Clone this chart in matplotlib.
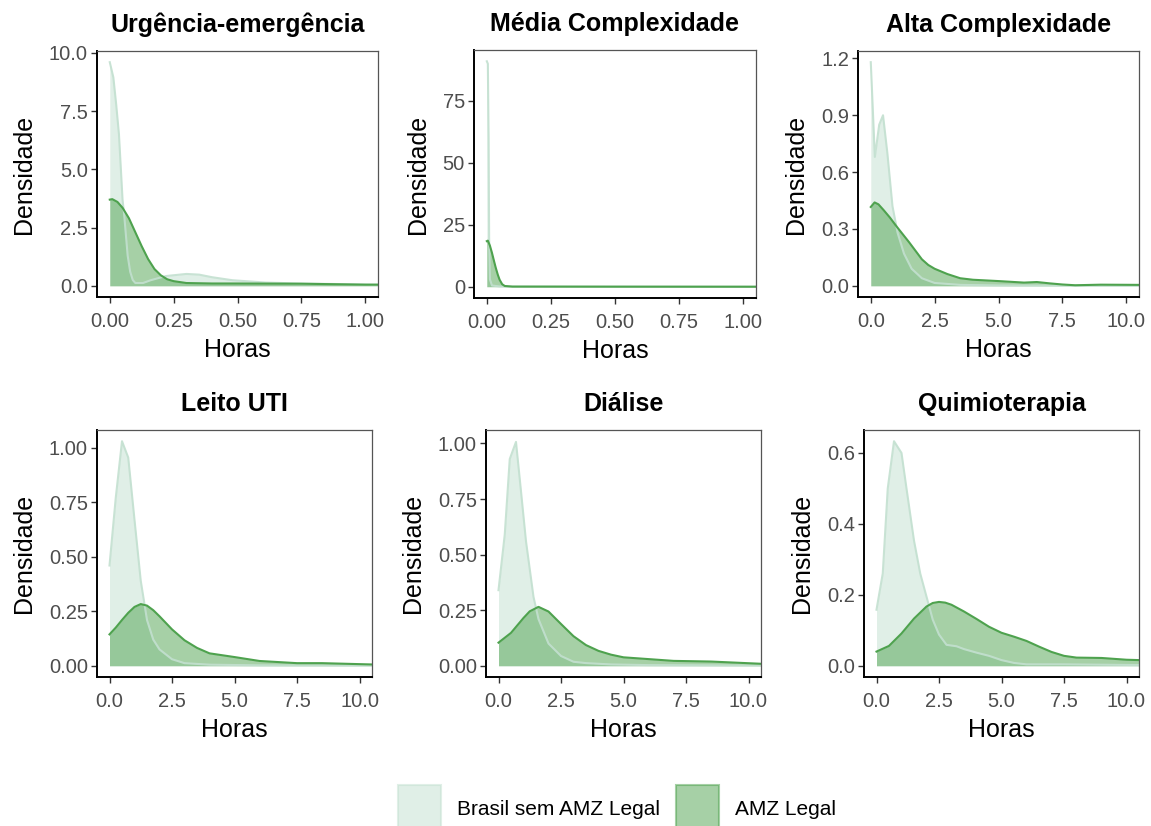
import matplotlib
matplotlib.use("Agg")
import matplotlib.pyplot as plt
from matplotlib.patches import Patch
from matplotlib.ticker import FixedLocator, FormatStrFormatter

plt.rcParams['font.family'] = ['Liberation Sans', 'DejaVu Sans']

# ---- dados (curvas de densidade) ----
titulos = ["Urgência-emergência", "Média Complexidade", "Alta Complexidade",
           "Leito UTI", "Diálise", "Quimioterapia"]
grupos = ["Brasil sem AMZ Legal", "AMZ Legal"]

urg_x_br = [0, 0.014, 0.025, 0.036, 0.05, 0.056, 0.07, 0.08, 0.09, 0.1, 0.13, 0.16, 0.22, 0.3, 0.35, 0.4, 0.48, 0.61, 0.74, 0.87, 1.05]
urg_y_br = [9.6, 8.95, 7.8, 6.5, 3.7, 3.1, 1.3, 0.6, 0.25, 0.12, 0.12, 0.24, 0.42, 0.51, 0.48, 0.37, 0.24, 0.14, 0.1, 0.08, 0.05]
urg_x_amz = [0, 0.01, 0.03, 0.05, 0.075, 0.1, 0.125, 0.15, 0.175, 0.2, 0.225, 0.25, 0.3, 0.4, 0.5, 0.75, 1.0, 1.05]
urg_y_amz = [3.7, 3.72, 3.6, 3.35, 2.9, 2.3, 1.7, 1.15, 0.72, 0.45, 0.28, 0.2, 0.12, 0.1, 0.1, 0.09, 0.05, 0.05]

med_x_br = [0, 0.004, 0.007, 0.009, 0.012, 0.02, 0.05, 1.05]
med_y_br = [91, 90, 60, 20, 3, 0.5, 0.1, 0.0]
med_x_amz = [0, 0.004, 0.012, 0.02, 0.028, 0.035, 0.043, 0.05, 0.06, 0.07, 0.1, 0.5, 1.05]
med_y_amz = [18.4, 18.6, 16.6, 13.7, 10.4, 7.6, 4.8, 2.8, 1.0, 0.3, 0.05, 0.02, 0.0]

alta_x_br = [0, 0.16, 0.33, 0.48, 0.65, 0.85, 1.05, 1.3, 1.6, 2.0, 2.5, 3.5, 5, 7.5, 10.5]
alta_y_br = [1.18, 0.68, 0.85, 0.9, 0.7, 0.42, 0.28, 0.17, 0.09, 0.04, 0.015, 0.005, 0.002, 0.001, 0.0]
alta_x_amz = [0, 0.15, 0.3, 0.5, 0.75, 1.0, 1.5, 2.0, 2.25, 2.5, 3.0, 3.5, 4.0, 5.0, 6.0, 6.5, 7.0, 7.5, 8.0, 9.0, 10.5]
alta_y_amz = [0.416, 0.44, 0.43, 0.40, 0.36, 0.315, 0.23, 0.14, 0.11, 0.09, 0.062, 0.04, 0.032, 0.025, 0.017, 0.02, 0.013, 0.007, 0.003, 0.006, 0.005]

uti_x_br = [0, 0.25, 0.5, 0.75, 1.0, 1.25, 1.5, 1.75, 2.0, 2.5, 3.0, 4.0, 6.0, 10.5]
uti_y_br = [0.46, 0.77, 1.03, 0.955, 0.67, 0.39, 0.21, 0.12, 0.075, 0.03, 0.012, 0.005, 0.002, 0.001]
uti_x_amz = [0, 0.25, 0.5, 0.75, 1.0, 1.25, 1.5, 1.75, 2.0, 2.5, 3.0, 3.5, 4.0, 5.0, 6.0, 7.5, 8.5, 10.5]
uti_y_amz = [0.144, 0.175, 0.21, 0.243, 0.27, 0.283, 0.276, 0.255, 0.227, 0.167, 0.117, 0.082, 0.057, 0.04, 0.022, 0.012, 0.012, 0.006]

dia_x_br = [0, 0.25, 0.45, 0.7, 0.9, 1.1, 1.4, 1.6, 2.0, 2.5, 3.0, 3.5, 4.5, 6.0, 10.5]
dia_y_br = [0.34, 0.59, 0.93, 1.007, 0.785, 0.56, 0.31, 0.21, 0.1, 0.044, 0.018, 0.012, 0.006, 0.003, 0.001]
dia_x_amz = [0, 0.5, 1.0, 1.25, 1.6, 2.0, 2.5, 3.0, 3.5, 4.0, 4.5, 5.0, 6.0, 7.0, 8.5, 10.5]
dia_y_amz = [0.104, 0.148, 0.215, 0.245, 0.265, 0.244, 0.188, 0.133, 0.093, 0.067, 0.05, 0.038, 0.03, 0.022, 0.019, 0.009]

qui_x_br = [0, 0.25, 0.45, 0.7, 1.0, 1.2, 1.5, 1.75, 2.0, 2.25, 2.5, 2.8, 3.2, 3.5, 4.0, 4.5, 5.0, 5.5, 6.0, 7.5, 10.5]
qui_y_br = [0.158, 0.26, 0.50, 0.633, 0.6, 0.5, 0.353, 0.26, 0.195, 0.13, 0.088, 0.059, 0.055, 0.047, 0.037, 0.028, 0.016, 0.008, 0.004, 0.004, 0.002]
qui_x_amz = [0, 0.5, 1.0, 1.5, 2.0, 2.25, 2.5, 2.75, 3.0, 3.5, 4.0, 4.5, 5.0, 5.5, 6.0, 6.5, 7.0, 7.5, 8.0, 9.0, 10.0, 10.5]
qui_y_amz = [0.04, 0.056, 0.091, 0.133, 0.167, 0.177, 0.18, 0.178, 0.172, 0.153, 0.132, 0.11, 0.093, 0.082, 0.07, 0.054, 0.039, 0.028, 0.023, 0.022, 0.017, 0.016]

curvas = [
    (urg_x_br, urg_y_br, urg_x_amz, urg_y_amz),
    (med_x_br, med_y_br, med_x_amz, med_y_amz),
    (alta_x_br, alta_y_br, alta_x_amz, alta_y_amz),
    (uti_x_br, uti_y_br, uti_x_amz, uti_y_amz),
    (dia_x_br, dia_y_br, dia_x_amz, dia_y_amz),
    (qui_x_br, qui_y_br, qui_x_amz, qui_y_amz),
]

yticks = [[0, 2.5, 5, 7.5, 10], [0, 25, 50, 75], [0, 0.3, 0.6, 0.9, 1.2],
          [0, 0.25, 0.5, 0.75, 1.0], [0, 0.25, 0.5, 0.75, 1.0], [0, 0.2, 0.4, 0.6]]
yfmt = ["%.1f", "%d", "%.1f", "%.2f", "%.2f", "%.1f"]
ymax = [9.6, 91, 1.18, 1.03, 1.01, 0.633]
xmax = [1, 1, 10, 10, 10, 10]

cor_br = "#c3e0d0"
cor_amz = "#4ea24e"

# posições dos painéis em pixels (esq, dir, topo, base)
W, H = 1151, 826
caixas = [(97, 378, 51, 297), (474, 756, 50, 298), (858, 1139, 51, 297),
          (97, 372, 430, 677), (486, 761, 430, 677), (864, 1139, 430, 677)]

fig = plt.figure(figsize=(W / 100, H / 100), dpi=100)

for i in range(6):
    l, r, t, b = caixas[i]
    ax = fig.add_axes([l / W, 1 - b / H, (r - l) / W, (b - t) / H])
    xb, yb, xa, ya = curvas[i]
    ax.fill_between(xb, yb, 0, color=cor_br, alpha=0.5, lw=0)
    ax.plot(xb, yb, color=cor_br, lw=1.5, alpha=0.9)
    ax.fill_between(xa, ya, 0, color=cor_amz, alpha=0.5, lw=0)
    ax.plot(xa, ya, color=cor_amz, lw=1.5)

    xm = xmax[i]
    ax.set_xlim(-0.05 * xm, 1.05 * xm)
    ax.set_ylim(-0.05 * ymax[i], 1.05 * ymax[i])
    if xm == 1:
        ax.xaxis.set_major_locator(FixedLocator([0, 0.25, 0.5, 0.75, 1.0]))
        ax.xaxis.set_major_formatter(FormatStrFormatter("%.2f"))
    else:
        ax.xaxis.set_major_locator(FixedLocator([0, 2.5, 5, 7.5, 10]))
        ax.xaxis.set_major_formatter(FormatStrFormatter("%.1f"))
    ax.yaxis.set_major_locator(FixedLocator(yticks[i]))
    ax.yaxis.set_major_formatter(FormatStrFormatter(yfmt[i]))

    ax.spines['left'].set_linewidth(1.4)
    ax.spines['bottom'].set_linewidth(1.4)
    ax.spines['left'].set_color('black')
    ax.spines['bottom'].set_color('black')
    ax.spines['top'].set_color('#555555')
    ax.spines['right'].set_color('#555555')
    ax.spines['top'].set_linewidth(0.9)
    ax.spines['right'].set_linewidth(0.9)
    ax.tick_params(length=4.5, width=1.0, color='#333333', labelsize=14.5,
                   labelcolor='#4d4d4d', pad=2)
    ax.tick_params(axis='x', pad=6)

    ax.set_title(titulos[i], fontsize=18, fontweight='bold', pad=13.5)
    ax.set_xlabel("Horas", fontsize=18, labelpad=5)
    ax.set_ylabel("Densidade", fontsize=18, labelpad=9.5)

handles = [Patch(facecolor=cor_br, alpha=0.5, edgecolor=cor_br, lw=1.5),
           Patch(facecolor=cor_amz, alpha=0.5, edgecolor=cor_amz, lw=1.5)]
handles[0].set_edgecolor((0.765, 0.878, 0.816, 1.0))
handles[1].set_edgecolor((0.306, 0.635, 0.306, 1.0))
fig.legend(handles, grupos, loc='upper left', bbox_to_anchor=(398 / W, 1 - 785 / H),
           frameon=False, fontsize=15, ncol=2, handlelength=2.07, handleheight=3.2,
           handletextpad=0.77, columnspacing=0.77, borderpad=0, borderaxespad=0)

fig.savefig("out.png", dpi=100)
